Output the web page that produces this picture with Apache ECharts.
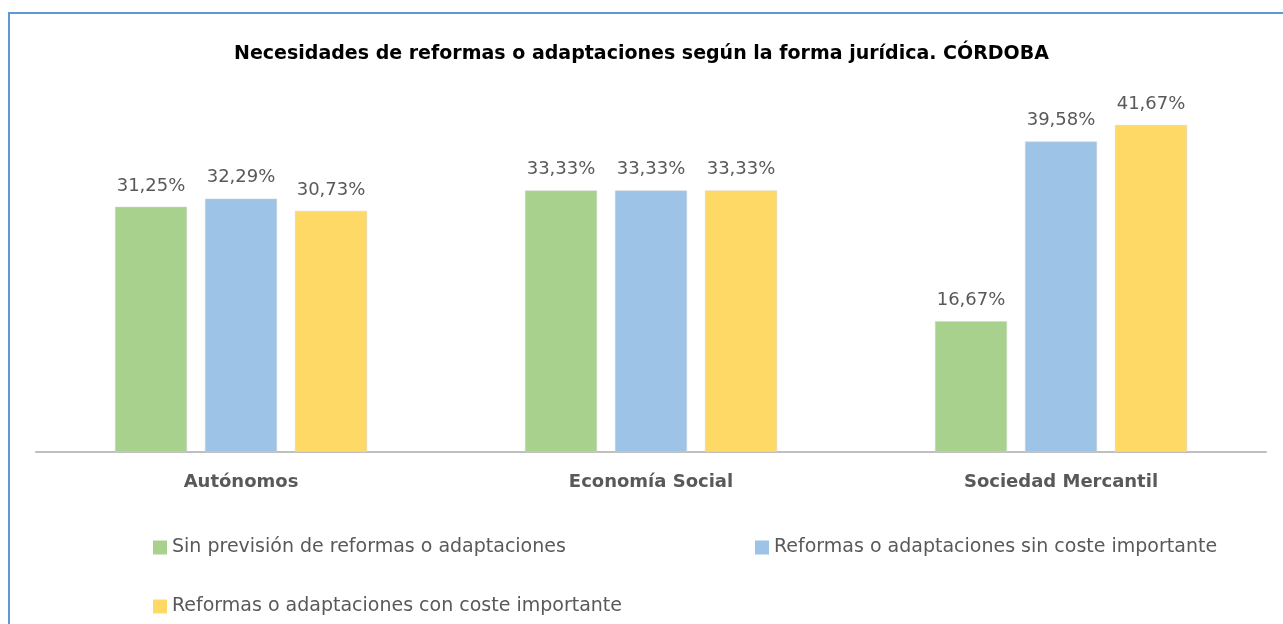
<!DOCTYPE html>
<html><head><meta charset="utf-8">
<script src="https://cdn.jsdelivr.net/npm/echarts@6/dist/echarts.min.js"></script>
<style>html,body{margin:0;padding:0;background:#fff}#c{width:1283px;height:624px}</style>
</head><body><div id="c"></div>
<script>
const categories = ['Autónomos', 'Economía Social', 'Sociedad Mercantil'];
const seriesNames = ['Sin previsión de reformas o adaptaciones', 'Reformas o adaptaciones sin coste importante', 'Reformas o adaptaciones con coste importante'];
const sinPrevision = [31.25, 33.33, 16.67];
const sinCoste = [32.29, 33.33, 39.58];
const conCoste = [30.73, 33.33, 41.67];
const colors = ['#A9D18E', '#9DC3E6', '#FFD966'];
const font = '"DejaVu Sans", sans-serif';

const chart = echarts.init(document.getElementById('c'));
const fmt = p => p.value.toFixed(2).replace('.', ',') + '%';
const mk = (name, data, color) => ({
  name, type: 'bar', data, barWidth: 72, barGap: '25%',
  itemStyle: { color, borderColor: '#d0d0d0', borderWidth: 0.5 },
  label: { show: true, position: 'top', distance: 12, formatter: fmt, color: '#595959', fontSize: 18, fontFamily: font }
});
const legendBase = { orient: 'horizontal', itemWidth: 14, itemHeight: 14, itemGap: 7, icon: 'rect',
  itemStyle: { borderWidth: 0 },
  textStyle: { color: '#595959', fontSize: 19, fontFamily: font } };
chart.setOption({
  animation: false,
  title: { text: 'Necesidades de reformas o adaptaciones según la forma jurídica. CÓRDOBA', left: 'center', top: 40,
    textStyle: { fontSize: 19, fontWeight: 'bold', color: '#000', fontFamily: font } },
  graphic: [{ type: 'rect', shape: { x: 9, y: 13, width: 1300, height: 640 }, style: { fill: 'none', stroke: '#5B9BD5', lineWidth: 2 } }],
  legend: [
    Object.assign({}, legendBase, { data: [seriesNames[0]], left: 148, top: 533 }),
    Object.assign({}, legendBase, { data: [seriesNames[1]], left: 750, top: 533 }),
    Object.assign({}, legendBase, { data: [seriesNames[2]], left: 148, top: 592 })
  ],
  grid: { left: 36, right: 17, top: 99, bottom: 172 },
  xAxis: { type: 'category', data: categories,
    axisLine: { lineStyle: { color: '#BFBFBF', width: 2 } }, axisTick: { show: false },
    axisLabel: { color: '#595959', fontSize: 18, fontWeight: 'bold', margin: 21, fontFamily: font } },
  yAxis: { type: 'value', min: 0, max: 45, show: false, splitLine: { show: false } },
  series: [mk(seriesNames[0], sinPrevision, colors[0]), mk(seriesNames[1], sinCoste, colors[1]), mk(seriesNames[2], conCoste, colors[2])]
});
</script></body></html>
